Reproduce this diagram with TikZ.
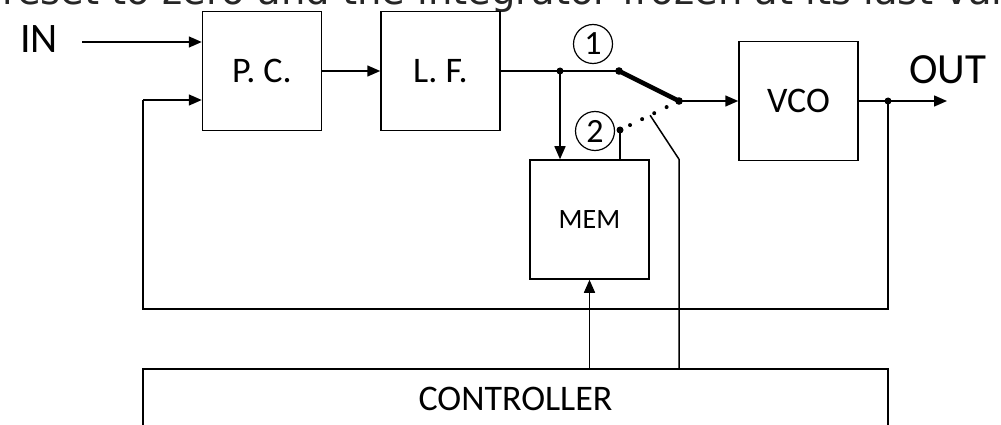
\documentclass[tikz,border=0pt]{standalone}
\usepackage{fontspec}
\setmainfont{Carlito}
\newfontfamily\titlefont{DejaVu Sans}
\usetikzlibrary{arrows.meta,calc}
\tikzset{
  blk/.style={draw, line width=1.5pt, minimum width=119pt, minimum height=119pt, inner sep=0pt, font=\fontsize{36}{40}\selectfont},
  wire/.style={line width=1.5pt},
  arr/.style={wire, -{Triangle[length=13pt,width=11pt]}},
  dotj/.style={fill=black},
  circnum/.style={draw, circle, line width=1.2pt, minimum size=39pt, inner sep=0pt, font=\fontsize{34}{38}\selectfont},
  lbl/.style={inner sep=0pt}
}
\begin{document}
\begin{tikzpicture}[x=1pt,y=-1pt]
\useasboundingbox (0,0) rectangle (1001,425);
\fill[white] (0,0) rectangle (1001,425);
\clip (0,0) rectangle (1001,425);

\node[anchor=base west, inner sep=0pt, text=black!85, font=\titlefont\fontsize{38.5}{42}\selectfont] (title) at (2,5) {reset to zero and the integrator frozen at its last value};

\node[blk] (pc) at (262,71) {P. C.};
\node[blk] (lf) at (440.5,71) {L. F.};
\node[blk] (vco) at (798.5,101) {VCO};
\node[blk, font=\fontsize{28}{32}\selectfont] (mem) at (589.5,219.5) {MEM};
\node[blk, minimum width=745pt, minimum height=59pt] (ctrl) at (515.5,398.5) {CONTROLLER};

\node[lbl, font=\fontsize{42}{46}\selectfont] (in) at (39,39) {IN};
\node[lbl, font=\fontsize{43}{46}\selectfont] (out) at (948,70) {OUT};

\node[circnum] (c1) at (593,44) {1};
\node[circnum] (c2) at (595,131) {2};

\coordinate (inarr) at (82,42);
\coordinate (j1) at (560,71);
\coordinate (sw1) at (619,71);
\coordinate (sw0) at (679,101);
\coordinate (sw2) at (620,130);
\coordinate (j2) at (888,101);
\coordinate (outarr) at (947,101);
\coordinate (fb1) at (888,309);
\coordinate (fb2) at (143,309);
\coordinate (fb3) at (143,100);
\coordinate (ctl) at ($(sw2)!0.51!(sw0)$);
\coordinate (bend) at (sw0 |- mem.north);

% input arrows
\draw[arr] (inarr) -- (pc.west |- inarr);
\draw[arr] (pc.east) -- (lf.west);
% loop filter output to switch
\draw[wire] (lf.east) -- (j1) -- (sw1);
\draw[arr] (j1) -- (j1 |- mem.north);
% switch
\draw[line width=4.5pt, line cap=round] (sw1) -- (sw0);
\draw[arr] (sw0) -- (vco.west);
\draw[wire] (sw2) -- (sw2 |- mem.north);
\foreach \t in {0.17,0.375,0.58,0.79}
  \fill ($(sw2)!\t!(sw0)$) circle (2pt);
% control line
\draw[wire] (ctl) -- (bend) -- (bend |- ctrl.north);
\draw[arr] (mem.south |- ctrl.north) -- (mem.south);
% output and feedback
\draw[wire] (vco.east) -- (j2);
\draw[arr] (j2) -- (outarr);
\draw[wire] (j2) -- (fb1) -- (fb2) -- (fb3);
\draw[arr] (fb3) -- (pc.west |- fb3);

% junction dots
\fill[dotj] (j1) circle (3.5pt);
\fill[dotj] (sw1) circle (3.8pt);
\fill[dotj] (sw0) circle (3.8pt);
\fill[dotj] (sw2) circle (3.5pt);
\fill[dotj] (j2) circle (3.5pt);
\end{tikzpicture}
\end{document}
